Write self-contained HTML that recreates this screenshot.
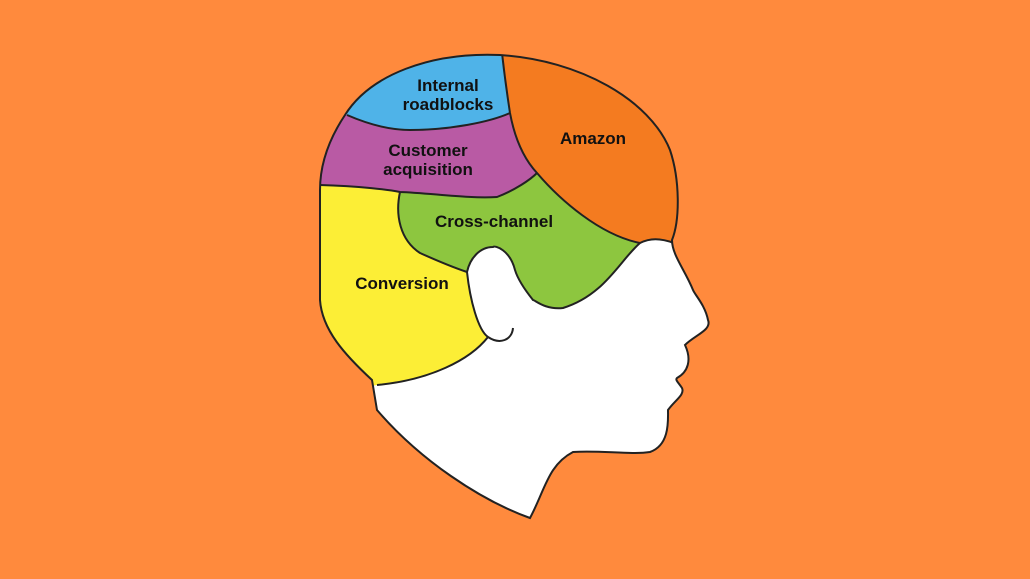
<!DOCTYPE html>
<html><head><meta charset="utf-8"><style>
html,body{margin:0;padding:0;background:#FF8A3D;}
svg{display:block}
text{font-family:"Liberation Sans",sans-serif;font-weight:bold;font-size:17px;fill:#111;text-anchor:middle}
</style></head><body>
<svg width="1030" height="579" viewBox="0 0 1030 579">
<rect width="1030" height="579" fill="#FF8A3D"/>
<defs>
<clipPath id="h"><path d="M500,55 C430,52 370,75 345,115 C325,145 320,170 320,190 L320,300 C322,330 345,355 372,380 L377,410 C420,460 480,500 530,518 C545,490 548,465 573,452 C600,450 630,455 650,452 C670,445 668,420 668,410 C675,400 685,395 682,388 C678,382 675,380 677,378 C688,372 692,360 685,345 C695,335 712,330 708,320 C705,305 695,295 693,290 C685,270 672,255 672,240 C680,220 680,180 670,150 C650,100 580,60 500,55 Z"/></clipPath>
</defs>
<g clip-path="url(#h)">
<rect width="1030" height="579" fill="#fff"/>
<path fill="#FCEE36" d="M300,180 L320,185 C360,186 390,190 400,192 C395,215 400,240 420,253 C440,262 455,268 467,272 C470,300 478,330 488,337 C470,360 430,380 377,385 L300,400 Z"/>
<path fill="#8DC63F" d="M400,192 C450,196 480,199 497,197 C515,190 530,180 537,173 C560,200 600,235 640,243 C620,260 605,295 563,308 C545,310 535,300 533,300 C525,290 518,280 515,270 C510,250 495,245 493,247 C480,247 470,258 467,272 C450,268 440,262 420,253 C400,240 395,215 400,192 Z"/>
<path fill="#B95AA4" d="M300,100 L347,115 C370,125 390,130 410,130 C450,130 490,122 510,113 C515,140 525,160 537,173 C520,185 510,195 497,197 C470,199 430,193 400,192 C370,188 340,185 320,185 L300,185 Z"/>
<path fill="#4FB3E8" d="M300,30 L502,30 L502,53 C505,80 508,100 510,113 C490,122 450,130 410,130 C390,130 370,125 347,115 L300,100 Z"/>
<path fill="#F47B20" d="M502,30 L720,30 L720,243 L672,243 C660,238 650,238 640,243 C600,235 560,200 537,173 C525,160 515,140 510,113 C508,100 505,80 502,53 Z"/>
<g fill="none" stroke="#222" stroke-width="2">
<path d="M320,185 C360,186 390,190 400,192 C430,193 470,199 497,197 C515,190 530,180 537,173"/>
<path d="M347,115 C370,125 390,130 410,130 C450,130 490,122 510,113"/>
<path d="M502,53 C505,80 508,100 510,113 C515,140 525,160 537,173 C560,200 600,235 640,243 C650,238 660,238 674,243"/>
<path d="M400,192 C395,215 400,240 420,253 C440,262 455,268 467,272"/>
<path d="M640,243 C620,260 605,295 563,308 C545,310 535,300 533,300 C525,290 518,280 515,270 C510,250 495,245 493,247 C480,247 470,258 467,272 C470,300 478,330 488,337 C500,345 512,340 513,328"/>
<path d="M488,337 C470,360 430,380 377,385"/>
</g>
</g>
<path d="M500,55 C430,52 370,75 345,115 C325,145 320,170 320,190 L320,300 C322,330 345,355 372,380 L377,410 C420,460 480,500 530,518 C545,490 548,465 573,452 C600,450 630,455 650,452 C670,445 668,420 668,410 C675,400 685,395 682,388 C678,382 675,380 677,378 C688,372 692,360 685,345 C695,335 712,330 708,320 C705,305 695,295 693,290 C685,270 672,255 672,240 C680,220 680,180 670,150 C650,100 580,60 500,55 Z" fill="none" stroke="#222" stroke-width="2"/>
<text x="448" y="91">Internal</text>
<text x="448" y="110">roadblocks</text>
<text x="428" y="156">Customer</text>
<text x="428" y="175">acquisition</text>
<text x="593" y="144">Amazon</text>
<text x="494" y="227">Cross-channel</text>
<text x="402" y="289">Conversion</text>
</svg>
</body></html>
